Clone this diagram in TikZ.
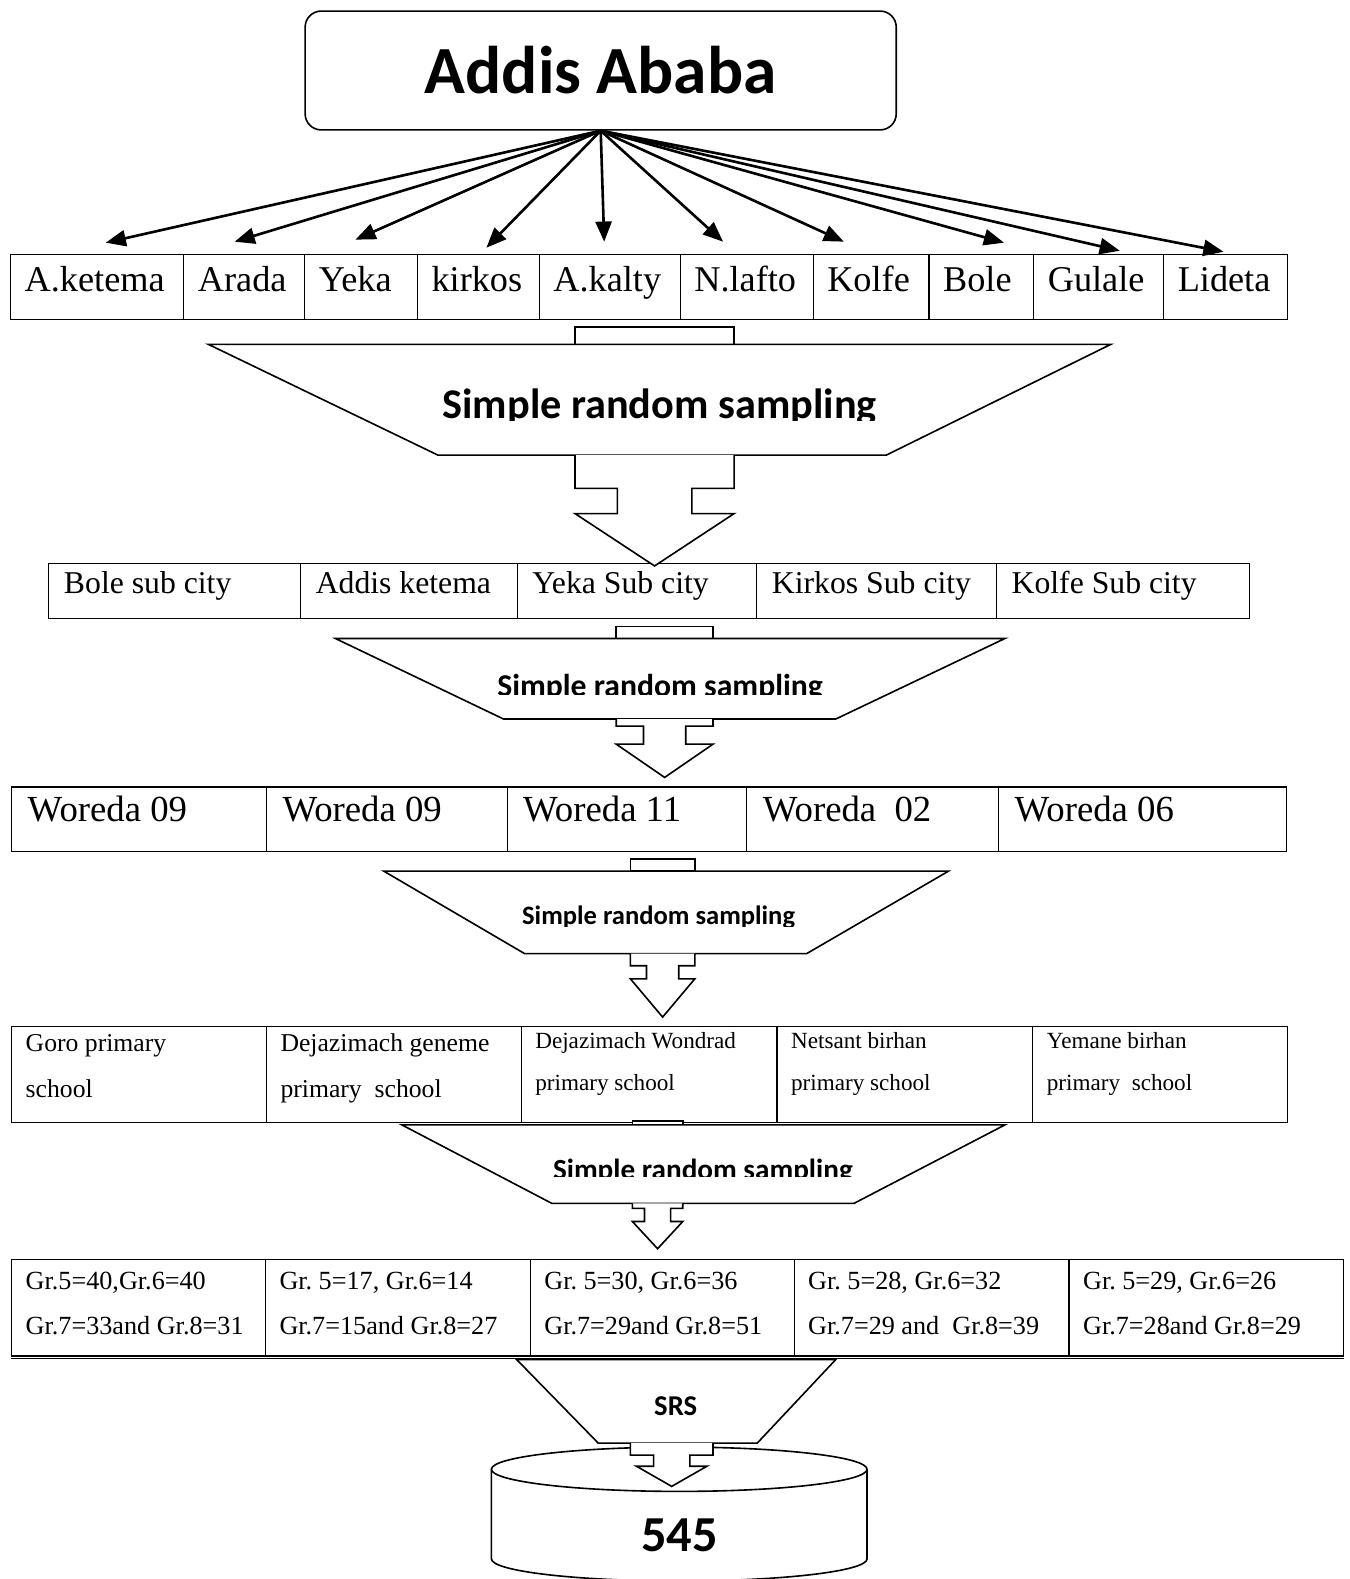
\documentclass[tikz,border=0pt]{standalone}
\usepackage{fontspec}
\setmainfont{Liberation Serif}
\newfontfamily\calibri{Carlito}
\usetikzlibrary{arrows.meta}
\frenchspacing

\tikzset{
  cell/.style={draw, line width=1.1pt, anchor=north west, inner xsep=14pt, inner ysep=0pt, align=flush left},
  rowA/.style={text height=37pt, text depth=28pt, font=\fontsize{36}{40}\selectfont},
  rowB/.style={text height=30pt, text depth=25pt, inner xsep=15pt, font=\fontsize{31.5}{34}\selectfont},
  rowC/.style={text height=34pt, text depth=30pt, inner xsep=16pt, font=\fontsize{36.5}{40}\selectfont},
  rowD/.style={text height=25pt, text depth=70pt, font=\fontsize{25.5}{45}\selectfont},
  rowDs/.style={text height=22pt, text depth=73pt, font=\fontsize{23}{41}\selectfont},
  rowE/.style={text height=30pt, text depth=66pt, font=\fontsize{26}{45}\selectfont},
  funnel/.style={draw, fill=white, line width=1.6pt},
  spoke/.style={line width=2.6pt, -{Triangle[length=20pt,width=16pt]}},
  srs/.style={anchor=base, inner sep=0pt, font=\calibri\bfseries\fontsize{#1}{#1}\selectfont},
}

\begin{document}
\begin{tikzpicture}[x=1pt, y=-1pt]
\useasboundingbox (0,0) rectangle (1340,1568);
\clip (0,0) rectangle (1340,1568);

\node[draw, rounded corners=16pt, line width=1.6pt, minimum width=587pt, minimum height=118pt,
	font=\calibri\bfseries\fontsize{67}{67}\selectfont] (addis) at (596.5,70) {Addis Ababa};

% sub cities
\node[cell, rowA, text width=144pt] (aketema) at (10,252) {A.ketema};
\node[cell, rowA, text width=92pt] (arada) at (182,252) {Arada};
\node[cell, rowA, text width=84pt] (yeka) at (302,252) {Yeka};
\node[cell, rowA, text width=93pt] (kirkos) at (414,252) {kirkos};
\node[cell, rowA, text width=112pt] (akalty) at (535,252) {A.kalty};
\node[cell, rowA, text width=104pt] (nlafto) at (675,252) {N.lafto};
\node[cell, rowA, text width=87pt] (kolfe) at (807,252) {Kolfe};
\node[cell, rowA, text width=76pt] (bole) at (922,252) {Bole};
\node[cell, rowA, text width=101pt] (gulale) at (1026,252) {Gulale};
\node[cell, rowA, text width=95pt] (lideta) at (1155,252) {Lideta};

\coordinate (tAketema) at (105,241);
\coordinate (tArada) at (233,240);
\coordinate (tYeka) at (353,238);
\coordinate (tKirkos) at (483,246);
\coordinate (tAkalty) at (600,240);
\coordinate (tNlafto) at (718,240);
\coordinate (tKolfe) at (838,240);
\coordinate (tBole) at (997,241);
\coordinate (tGulale) at (1112,249);
\coordinate (tLideta) at (1215,250);

\draw[spoke] (addis.south) -- (tAketema);
\draw[spoke] (addis.south) -- (tArada);
\draw[spoke] (addis.south) -- (tYeka);
\draw[spoke] (addis.south) -- (tKirkos);
\draw[spoke] (addis.south) -- (tAkalty);
\draw[spoke] (addis.south) -- (tNlafto);
\draw[spoke] (addis.south) -- (tKolfe);
\draw[spoke] (addis.south) -- (tBole);
\draw[spoke] (addis.south) -- (tGulale);
\draw[spoke] (addis.south) -- (tLideta);

% chosen sub cities
\node[cell, rowB, text width=220pt] (bolesc) at (48,559) {Bole sub city};
\node[cell, rowB, text width=185pt] (addisk) at (298,559) {Addis ketema};
\node[cell, rowB, text width=208pt] (yekasc) at (513,559) {Yeka Sub city};
\node[cell, rowB, text width=208pt] (kirkossc) at (751,559) {Kirkos Sub city};
\node[cell, rowB, text width=221pt] (kolfesc) at (989,559) {Kolfe Sub city};

% woredas
\node[cell, rowC, text width=221pt] (worA) at (11,781) {Woreda 09};
\node[cell, rowC, text width=207pt] (worB) at (264,781) {Woreda 09};
\node[cell, rowC, text width=206pt] (worC) at (503,781) {Woreda 11};
\node[cell, rowC, text width=218pt] (worD) at (741,781) {Woreda\ \ 02};
\node[cell, rowC, text width=254pt] (worE) at (991,781) {Woreda 06};

% schools
\node[cell, rowD, text width=225pt] (goro) at (11,1019) {Goro primary\\school};
\node[cell, rowD, text width=225pt] (geneme) at (264,1019) {Dejazimach geneme\\primary\ \ school};
\node[cell, rowDs, text width=226pt] (wondrad) at (517,1019) {Dejazimach Wondrad\\primary school};
\node[cell, rowDs, text width=226pt] (netsant) at (771,1019) {Netsant birhan\\primary school};
\node[cell, rowDs, text width=225pt] (yemane) at (1025,1019) {Yemane birhan\\primary\ \ school};

% grades
\node[cell, rowE, text width=224pt] (grGoro) at (11,1250) {Gr.5=40,Gr.6=40\\Gr.7=33and Gr.8=31};
\node[cell, rowE, text width=235pt] (grGeneme) at (263,1250) {Gr. 5=17, Gr.6=14\\Gr.7=15and Gr.8=27};
\node[cell, rowE, text width=234pt] (grWondrad) at (526,1250) {Gr. 5=30, Gr.6=36\\Gr.7=29and Gr.8=51};
\node[cell, rowE, text width=245pt] (grNetsant) at (788,1250) {Gr. 5=28, Gr.6=32\\Gr.7=29 and\ \ Gr.8=39};
\node[cell, rowE, text width=245pt] (grYemane) at (1061,1250) {Gr. 5=29, Gr.6=26\\Gr.7=28and Gr.8=29};
\draw[line width=1.1pt] (grGoro.south west) ++(0,2) -- ([yshift=-2pt]grYemane.south east);

% first funnel
\draw[funnel] (571,325) rectangle (729,342);
\draw[funnel] (207,342) -- (1103,342) -- (880,452) -- (435,452) -- cycle;
\draw[funnel] (571,452) -- (571,485) -- (613,485) -- (613,510) -- (571,510) --
	(650,562) -- (729,510) -- (687,510) -- (687,485) -- (729,485) -- (729,452);
\begin{scope}
\clip (207,342) rectangle (1103,418);
\node[srs=42] (srsA) at (655,416) {Simple random sampling};
\end{scope}

% second funnel
\draw[funnel] (612,622) rectangle (708,634);
\draw[funnel] (333,634) -- (998,634) -- (830,714) -- (500,714) -- cycle;
\draw[funnel] (612,714) -- (612,721) -- (639,721) -- (639,739) -- (612,739) --
	(660,772) -- (708,739) -- (681,739) -- (681,721) -- (708,721) -- (708,714);
\begin{scope}
\clip (333,634) rectangle (998,690);
\node[srs=31.5] (srsB) at (655.5,692) {Simple random sampling};
\end{scope}

% third funnel
\draw[funnel] (626,853) rectangle (690,865);
\draw[funnel] (381,865) -- (942,865) -- (801,947) -- (521,947) -- cycle;
\draw[funnel] (626,947) -- (626,959) -- (642,959) -- (642,972) -- (626,972) --
	(658,1010) -- (690,972) -- (674,972) -- (674,959) -- (690,959) -- (690,947);
\begin{scope}
\clip (381,865) rectangle (942,920);
\node[srs=26.4] (srsC) at (654,918) {Simple random sampling};
\end{scope}

% fourth funnel
\draw[funnel] (628,1113) rectangle (678,1117);
\draw[funnel] (399,1117) -- (998,1117) -- (848,1195) -- (548,1195) -- cycle;
\draw[funnel] (628,1195) -- (628,1200) -- (640,1200) -- (640,1213) -- (628,1213) --
	(653,1240) -- (678,1213) -- (666,1213) -- (666,1200) -- (678,1200) -- (678,1195);
\begin{scope}
\clip (399,1117) rectangle (998,1168);
\node[srs=29] (srsD) at (698,1171) {Simple random sampling};
\end{scope}

% sample
\draw[funnel] (488,1459) -- (488,1548) arc[start angle=180, end angle=360, x radius=186.5pt, y radius=22pt] -- (861,1459);
\draw[funnel] (674.5,1459) ellipse [x radius=186.5pt, y radius=22pt];
\node[srs=50] (total) at (675,1541) {545};

\draw[funnel] (513,1350) -- (830,1350) -- (752,1433) -- (594,1433) -- cycle;
\draw[funnel] (626,1433) -- (626,1445) -- (649,1445) -- (649,1456) -- (632,1456) --
	(667,1476) -- (702,1456) -- (685,1456) -- (685,1445) -- (708,1445) -- (708,1433);
\node[srs=28.5] (srsE) at (671,1406) {SRS};
\end{tikzpicture}
\end{document}
